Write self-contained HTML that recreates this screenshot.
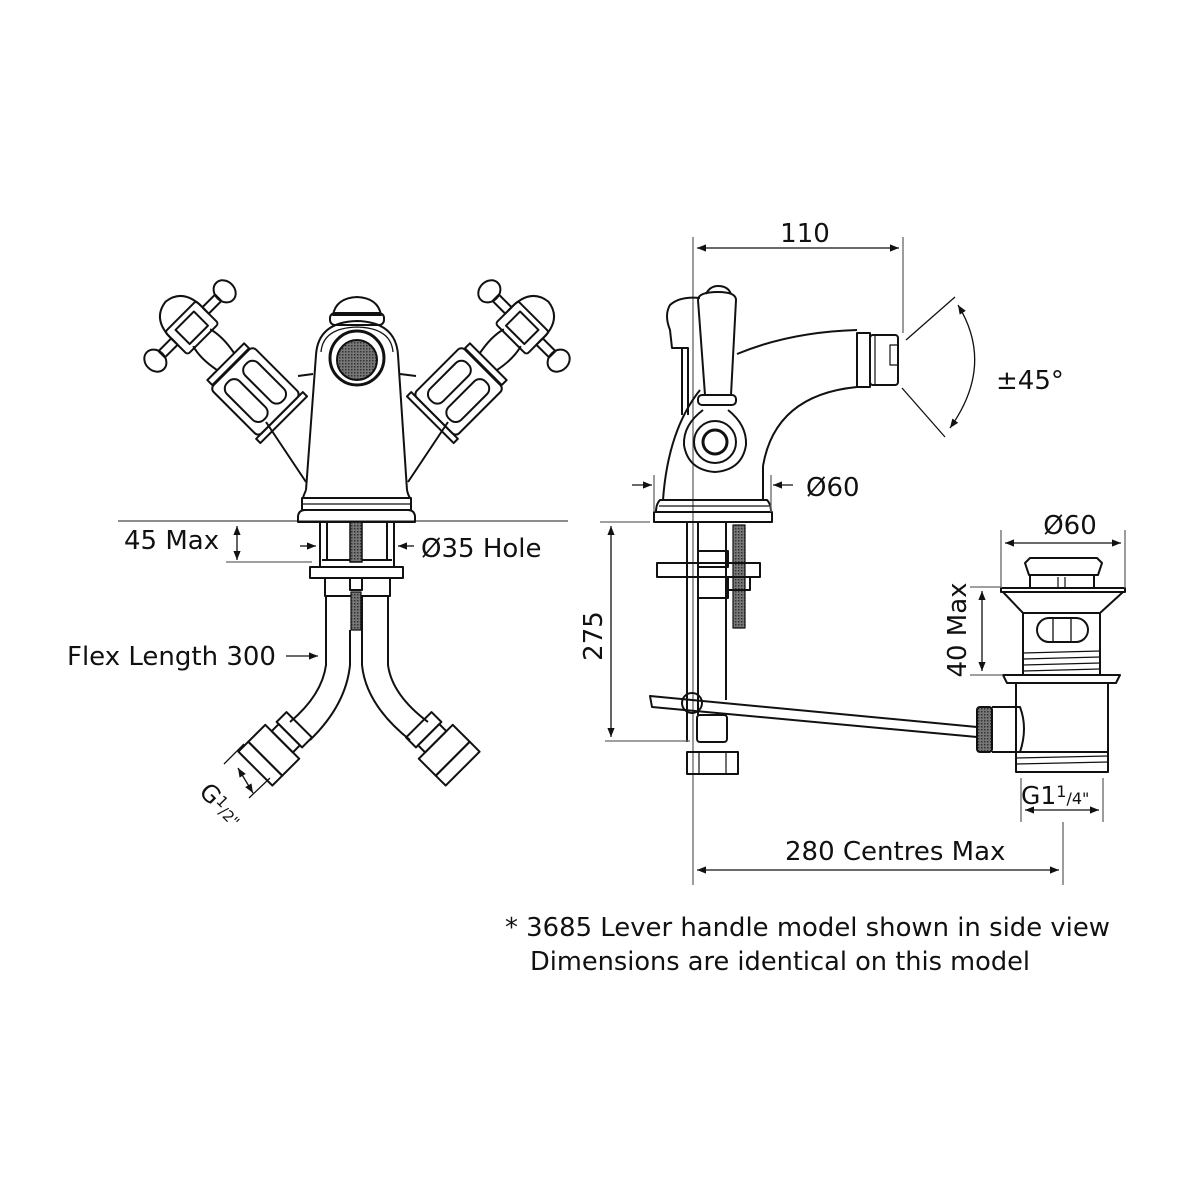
<!DOCTYPE html>
<html><head><meta charset="utf-8"><style>
html,body{margin:0;padding:0;background:#fff;}
svg{display:block}
text{font-family:"DejaVu Sans","Liberation Sans",sans-serif;fill:#111}
</style></head><body>
<svg width="1200" height="1200" viewBox="0 0 1200 1200" xmlns="http://www.w3.org/2000/svg">
<defs>
<marker id="a" viewBox="0 0 10 10" refX="10" refY="5" markerWidth="7" markerHeight="7" orient="auto-start-reverse"><path d="M0,1 L10,5 L0,9 z" fill="#111"/></marker>
<pattern id="mesh" width="3" height="3" patternUnits="userSpaceOnUse"><rect width="3" height="3" fill="#777"/><rect width="1.5" height="1.5" fill="#333"/></pattern>
</defs>
<g fill="none" stroke="#111" stroke-width="2" stroke-linejoin="round">

<line x1="118" y1="521" x2="568" y2="521" stroke="#666" stroke-width="1.5"/>
<path d="M333,315 Q336,298 357,297 Q378,298 381,315 Z"/>
<rect x="330" y="313" width="54" height="12" rx="5"/>
<path d="M306,490 L316,355 Q318,322 357,321 Q396,322 398,355 L407,490"/>
<path d="M321,352 Q323,328 357,327 Q391,328 393,352" stroke-width="1.3"/>
<circle cx="357" cy="358" r="27" stroke-width="3"/>
<circle cx="357" cy="360" r="20" fill="url(#mesh)"/>
<path d="M306,490 Q303,497 303,498 L410,498 Q408,495 407,490"/>
<rect x="302" y="498" width="109" height="12"/>
<line x1="303" y1="504" x2="410" y2="504" stroke-width="1.3"/>
<path d="M298,522 L298,516 Q299,510 305,510 L408,510 Q414,510 415,516 L415,522 Z"/>

<g id="hl" transform="translate(254,390) rotate(-45)">
<rect x="-30" y="-32" width="60" height="68" rx="5"/>
<rect x="-22" y="-24" width="18" height="52" rx="8"/>
<rect x="4" y="-24" width="18" height="52" rx="8"/>
<rect x="-33" y="36" width="66" height="6"/>
<rect x="-26" y="-40" width="52" height="7"/>
<path d="M-12,-40 Q-16,-60 -12,-74 M12,-40 Q16,-60 12,-74"/>
<rect x="-22" y="-104" width="44" height="32" rx="3"/>
<rect x="-13" y="-98" width="26" height="20"/>
<path d="M-22,-90 Q-24,-122 0,-125 Q24,-122 22,-90" />
<rect x="-40" y="-95" width="18" height="9"/>
<rect x="22" y="-95" width="18" height="9"/>
<ellipse cx="-49" cy="-90.5" rx="10" ry="12"/>
<ellipse cx="49" cy="-90.5" rx="10" ry="12"/>
</g>
<use href="#hl" transform="translate(714,0) scale(-1,1)"/>
<line x1="298" y1="376" x2="313" y2="374"/>
<line x1="266" y1="422" x2="306" y2="482"/>
<line x1="416" y1="376" x2="400" y2="374"/>
<line x1="448" y1="422" x2="408" y2="482"/>

<line x1="320" y1="522" x2="320" y2="567"/><line x1="327" y1="522" x2="327" y2="560"/>
<line x1="387" y1="522" x2="387" y2="560"/><line x1="394" y1="522" x2="394" y2="567"/>
<line x1="322" y1="560" x2="392" y2="560"/>
<rect x="350" y="522" width="12" height="40" fill="url(#mesh)" stroke-width="1.5"/>
<rect x="310" y="567" width="93" height="11"/>
<rect x="325" y="578" width="65" height="18"/>
<rect x="350" y="578" width="12" height="12"/>
<rect x="351" y="592" width="10" height="38" fill="url(#mesh)" stroke-width="1.2"/>
<path d="M326,596 L326,665 Q322,695 290,722"/>
<path d="M350,630 L350,665 Q346,705 310,740"/>
<path d="M362,596 L362,665 Q366,705 410,740"/>
<path d="M388,596 L388,665 Q392,695 428,722"/>
<g transform="translate(278,746) rotate(45)">
<rect x="-18" y="-30" width="36" height="14"/>
<rect x="-15" y="-16" width="30" height="10"/>
<rect x="-24" y="-6" width="48" height="24"/>
<rect x="-24" y="18" width="48" height="14"/>
</g>
<g transform="translate(440,746) rotate(-45)">
<rect x="-18" y="-30" width="36" height="14"/>
<rect x="-15" y="-16" width="30" height="10"/>
<rect x="-24" y="-6" width="48" height="24"/>
<rect x="-24" y="18" width="48" height="14"/>
</g>
<g stroke-width="1.3">
<line x1="224" y1="764" x2="244" y2="744"/><line x1="249" y1="798" x2="270" y2="778"/>
<line x1="238" y1="768" x2="253" y2="793" marker-start="url(#a)" marker-end="url(#a)"/>
</g>

<g stroke-width="1.3">
<line x1="226" y1="562" x2="312" y2="562" stroke="#666"/>
<line x1="237" y1="526" x2="237" y2="560" marker-start="url(#a)" marker-end="url(#a)"/>
<line x1="300" y1="546" x2="316" y2="546" marker-end="url(#a)"/>
<line x1="414" y1="546" x2="398" y2="546" marker-end="url(#a)"/>
<line x1="286" y1="656" x2="318" y2="656" marker-end="url(#a)"/>
</g>

<g stroke-width="1.3">
<line x1="693" y1="237" x2="693" y2="885" stroke="#666"/>
<line x1="903" y1="237" x2="903" y2="333" stroke="#666"/>
<line x1="697" y1="248" x2="899" y2="248" marker-start="url(#a)" marker-end="url(#a)"/>
</g>
<path d="M700,298 Q680,296 670,305 Q664,315 670,330 L672,348 L688,348 L688,415"/>
<line x1="682" y1="348" x2="682" y2="415"/>
<path d="M698,300 L705,395 L731,395 L736,300 Q736,292 718,292 Q698,292 698,300 Z"/>
<path d="M706,294 Q710,286 718,286 Q728,286 731,294"/>
<rect x="698" y="395" width="38" height="10" rx="4"/>
<path d="M703,410 Q683,425 684,445 Q688,470 715,472 Q742,470 746,445 Q747,425 728,410"/>
<circle cx="715" cy="442" r="21"/>
<circle cx="715" cy="442" r="12" stroke-width="3"/>
<path d="M700,390 Q668,430 663,500"/>
<path d="M737,354 Q790,332 857,330"/>
<path d="M763,466 Q775,395 857,387"/>
<line x1="763" y1="466" x2="763" y2="500"/>
<rect x="857" y="333" width="13" height="54"/>
<rect x="870" y="335" width="28" height="50" rx="3"/>
<line x1="875" y1="336" x2="875" y2="384" stroke-width="1.2"/>
<rect x="890" y="345" width="8" height="20" stroke-width="1.2"/>
<g stroke-width="1.3">
<line x1="906" y1="340" x2="955" y2="297"/>
<line x1="902" y1="388" x2="945" y2="437"/>
<path d="M958,305 Q995,365 950,428" marker-start="url(#a)" marker-end="url(#a)"/>
</g>
<path d="M660,500 L767,500 Q771,504 771,512 L656,512 Q656,504 660,500 Z"/>
<line x1="659" y1="506" x2="769" y2="506" stroke-width="1.2"/>
<rect x="654" y="512" width="118" height="10"/>
<g stroke-width="1.3">
<line x1="654" y1="475" x2="654" y2="512" stroke="#666"/>
<line x1="771" y1="475" x2="771" y2="512" stroke="#666"/>
<line x1="632" y1="485" x2="652" y2="485" marker-end="url(#a)"/>
<line x1="793" y1="485" x2="773" y2="485" marker-end="url(#a)"/>
</g>
<line x1="687" y1="522" x2="687" y2="742"/>
<line x1="698" y1="522" x2="698" y2="715"/>
<line x1="726" y1="522" x2="726" y2="700"/>
<rect x="733" y="525" width="12" height="103" fill="url(#mesh)" stroke-width="1.2"/>
<rect x="698" y="551" width="30" height="16"/>
<rect x="657" y="563" width="103" height="14"/>
<rect x="698" y="577" width="30" height="21"/>
<rect x="728" y="577" width="22" height="13"/>
<rect x="697" y="715" width="30" height="27" rx="3"/>
<rect x="687" y="752" width="51" height="22"/>
<line x1="699" y1="752" x2="699" y2="774" stroke-width="1.2"/>
<line x1="726" y1="752" x2="726" y2="774" stroke-width="1.2"/>
<path d="M650,696 L977,727 L977,737 L652,707 Z"/>
<circle cx="692" cy="703" r="10"/>
<rect x="977" y="707" width="15" height="45" rx="3" fill="url(#mesh)"/>
<g stroke-width="1.3">
<line x1="600" y1="522" x2="650" y2="522" stroke="#666"/>
<line x1="605" y1="741" x2="690" y2="741" stroke="#666"/>
<line x1="611" y1="526" x2="611" y2="737" marker-start="url(#a)" marker-end="url(#a)"/>
</g>

<path d="M1030,558 L1097,558 L1102,563 L1098,575 L1029,575 L1025,563 Z"/>
<line x1="1030" y1="575" x2="1030" y2="588"/><line x1="1094" y1="575" x2="1094" y2="588"/>
<line x1="1058" y1="577" x2="1058" y2="588" stroke-width="1.2"/><line x1="1065" y1="577" x2="1065" y2="588" stroke-width="1.2"/>
<rect x="1001" y="588" width="124" height="4"/>
<path d="M1003,592 L1023,613 L1100,613 L1123,592"/>
<rect x="1023" y="613" width="77" height="62"/>
<rect x="1037" y="618" width="51" height="24" rx="12"/>
<line x1="1053" y1="619" x2="1053" y2="641" stroke-width="1.3"/><line x1="1071" y1="619" x2="1071" y2="641" stroke-width="1.3"/>
<g stroke-width="1.2"><line x1="1023" y1="653" x2="1100" y2="651"/><line x1="1023" y1="659" x2="1100" y2="657"/><line x1="1023" y1="665" x2="1100" y2="663"/><line x1="1023" y1="671" x2="1100" y2="669"/></g>
<path d="M1003,675 L1120,675 L1116,683 L1007,683 Z"/>
<path d="M1016,683 L1016,752 L1108,752 L1108,683"/>
<path d="M992,707 L1020,707 Q1028,728 1020,752 L992,752"/>
<rect x="1016" y="752" width="92" height="20"/>
<g stroke-width="1.2"><line x1="1016" y1="758" x2="1108" y2="756"/><line x1="1016" y1="764" x2="1108" y2="762"/></g>
<g stroke-width="1.3">
<line x1="1001" y1="530" x2="1001" y2="588" stroke="#666"/>
<line x1="1125" y1="530" x2="1125" y2="588" stroke="#666"/>
<line x1="1005" y1="543" x2="1121" y2="543" marker-start="url(#a)" marker-end="url(#a)"/>
<line x1="970" y1="587" x2="1001" y2="587" stroke="#666"/>
<line x1="970" y1="675" x2="1003" y2="675" stroke="#666"/>
<line x1="982" y1="591" x2="982" y2="671" marker-start="url(#a)" marker-end="url(#a)"/>
<line x1="1021" y1="778" x2="1021" y2="822" stroke="#666"/>
<line x1="1103" y1="778" x2="1103" y2="822" stroke="#666"/>
<line x1="1025" y1="810" x2="1099" y2="810" marker-start="url(#a)" marker-end="url(#a)"/>
<line x1="1063" y1="822" x2="1063" y2="885" stroke="#666"/>
<line x1="697" y1="870" x2="1059" y2="870" marker-start="url(#a)" marker-end="url(#a)"/>
</g>
</g>

<g font-size="26">
<text x="124" y="549">45 Max</text>
<text x="421" y="557">Ø35 Hole</text>
<text x="67" y="665">Flex Length 300</text>
<text x="0" y="0" transform="translate(198,793) rotate(45)" font-size="24">G<tspan font-size="15" dy="-6">1</tspan><tspan font-size="15" dy="6">/2"</tspan></text>
<text x="805" y="242" text-anchor="middle">110</text>
<text x="996" y="389">±45°</text>
<text x="806" y="496">Ø60</text>
<text x="1070" y="534" text-anchor="middle">Ø60</text>
<text transform="translate(602,636) rotate(-90)" text-anchor="middle">275</text>
<text transform="translate(966,630) rotate(-90)" text-anchor="middle">40 Max</text>
<text x="1021" y="804" font-size="25">G1<tspan font-size="16" dy="-7">1</tspan><tspan font-size="16" dy="7">/4"</tspan></text>
<text x="785" y="860">280 Centres Max</text>
</g>
<g font-family="Liberation Sans, sans-serif" font-size="26">
<text x="505" y="936" textLength="605" lengthAdjust="spacingAndGlyphs">* 3685 Lever handle model shown in side view</text>
<text x="530" y="970" textLength="500" lengthAdjust="spacingAndGlyphs">Dimensions are identical on this model</text>
</g>
</svg>
</body></html>
